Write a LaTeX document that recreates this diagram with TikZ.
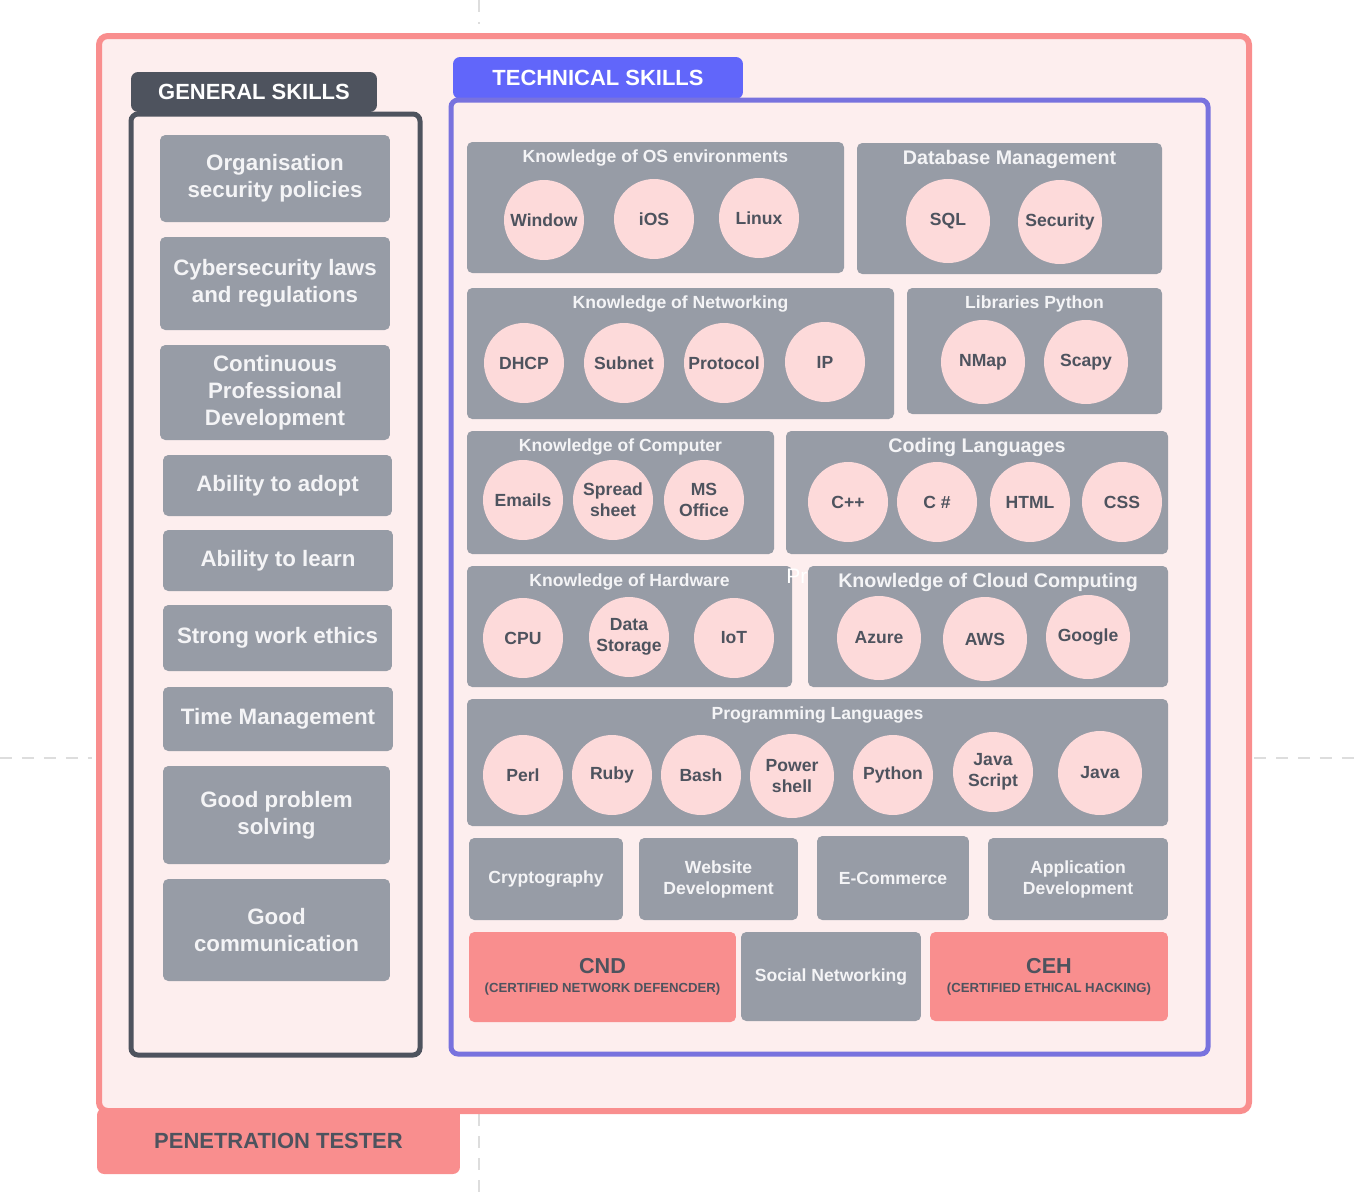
\documentclass[tikz,border=0pt]{standalone}
\usepackage{fontspec}
\setmainfont{Liberation Sans}
\usetikzlibrary{fit}
\definecolor{cbpaper}{HTML}{FDEEEE}
\definecolor{cbsalmon}{HTML}{F98E8E}
\definecolor{cbslate}{HTML}{4E535E}
\definecolor{cbblue}{HTML}{6166FA}
\definecolor{cbviolet}{HTML}{7872DE}
\definecolor{cbgrey}{HTML}{979CA6}
\definecolor{cbpink}{HTML}{FDDADA}
\definecolor{cbwhite}{HTML}{F4F4F6}
\definecolor{cbdash}{HTML}{DDDDDD}
\tikzstyle{frame} = [rectangle, rounded corners=5pt, fill=cbpaper, inner sep=0pt]
\tikzstyle{tab} = [rectangle, rounded corners=4pt, inner sep=0pt,
text=white, font=\bfseries\fontsize{12.5}{15}\selectfont]
\tikzstyle{skill} = [rectangle, rounded corners=3pt, fill=cbgrey, inner sep=0pt,
text=cbwhite, align=center, font=\bfseries\fontsize{12.7}{15.3}\selectfont]
\tikzstyle{group} = [rectangle, rounded corners=3pt, fill=cbgrey, inner sep=0pt]
\tikzstyle{title} = [anchor=base, yshift=-0.41cm, inner sep=0pt,
text=cbwhite, font=\bfseries\fontsize{10}{12}\selectfont]
\tikzstyle{bigtitle} = [title, yshift=-0.03cm, font=\bfseries\fontsize{11.2}{13}\selectfont]
\tikzstyle{bubble} = [circle, minimum size=1.6cm, inner sep=0pt, fill=cbpink,
text=cbslate, align=center, font=\bfseries\fontsize{10}{12}\selectfont]
\tikzstyle{bigbubble} = [bubble, minimum size=1.68cm]
\tikzstyle{field} = [group, text=cbwhite, align=center, font=\bfseries\fontsize{10}{12}\selectfont]
\tikzstyle{cert} = [rectangle, rounded corners=3pt, fill=cbsalmon, inner sep=0pt,
text=cbslate, align=center, font=\bfseries]
\tikzstyle{guide} = [draw=cbdash, line width=0.05cm, dash pattern=on 0.24cm off 0.2cm]

\begin{document}
\begin{tikzpicture}[x=0.02cm, y=-0.02cm]
\useasboundingbox (0,0) rectangle (1360,1198);

% ------------------------- guides -------------------------
\draw[guide] (479,0) -- (479,24);
\draw[guide] (479,1114) -- (479,1198);
\draw[guide] (0,758) -- (92,758);
\draw[guide] (1254,758) -- (1360,758);

% ------------------------- frames -------------------------

% ----- node: 1
\node(1)[tab, fill=cbsalmon, text=cbslate, minimum width=7.26cm, minimum height=1.32cm] at (278.5,1141) {PENETRATION TESTER};
% ----- node: 0
\node(0)[frame, draw=cbsalmon, line width=0.12cm, fit={(99,36) (1249,1111)}] {};
% ----- node: 2
\node(2)[tab, fill=cbslate, minimum width=4.92cm, minimum height=0.8cm] at (254,92) {GENERAL SKILLS};
% ----- node: 3
\node(3)[frame, draw=cbslate, line width=0.1cm, rounded corners=4pt, fit={(131,114) (420,1055)}] {};
% ----- node: 4
\node(4)[tab, fill=cbblue, minimum width=5.8cm, minimum height=0.84cm] at (598,78) {TECHNICAL SKILLS};
% ----- node: 5
\node(5)[frame, draw=cbviolet, line width=0.1cm, rounded corners=4pt, fit={(451,100) (1208,1054)}] {};

% ------------------------- general skills -------------------------

% ----- node: 6-14
\node(6)[skill, minimum width=4.6cm, minimum height=1.74cm] at (275,178.5) {Organisation\\security policies};
\node(7)[skill, minimum width=4.6cm, minimum height=1.86cm] at (275,283.5) {Cybersecurity laws\\and regulations};
\node(8)[skill, minimum width=4.6cm, minimum height=1.9cm] at (275,392.5) {Continuous\\Professional\\Development};
\node(9)[skill, minimum width=4.58cm, minimum height=1.22cm] at (277.5,485.5) {Ability to adopt};
\node(10)[skill, minimum width=4.6cm, minimum height=1.22cm] at (278,560.5) {Ability to learn};
\node(11)[skill, minimum width=4.58cm, minimum height=1.32cm] at (277.5,638) {Strong work ethics};
\node(12)[skill, minimum width=4.6cm, minimum height=1.28cm] at (278,719) {Time Management};
\node(13)[skill, minimum width=4.54cm, minimum height=1.96cm] at (276.5,815) {Good problem\\solving};
\node(14)[skill, minimum width=4.54cm, minimum height=2.04cm] at (276.5,930) {Good\\communication};

% ------------------------- technical skills -------------------------

% ----- node: 15
\node(15)[group, fit={(467,142) (844,273)}, label={[title]north:Knowledge of OS environments}] {};
\node(16)[bubble] at (544,220) {Window};
\node(17)[bubble] at (654,219) {iOS};
\node(18)[bubble] at (759,218) {Linux};
% ----- node: 19
\node(19)[group, fit={(857,143) (1162,274)}, label={[bigtitle]north:Database Management}] {};
\node(20)[bigbubble] at (948,221) {SQL};
\node(21)[bigbubble] at (1060,222) {Security};
% ----- node: 22
\node(22)[group, fit={(467,288) (894,419)}, label={[title]north:Knowledge of Networking}] {};
\node(23)[bubble] at (524,363) {DHCP};
\node(24)[bubble] at (624,363) {Subnet};
\node(25)[bubble] at (724,363) {Protocol};
\node(26)[bubble] at (825,362) {IP};
% ----- node: 27
\node(27)[group, fit={(907,288) (1162,414)}, label={[title]north:Libraries Python}] {};
\node(28)[bigbubble] at (983,362) {NMap};
\node(29)[bigbubble] at (1086,362) {Scapy};
% ----- node: 30
\node(30)[group, fit={(467,431) (774,554)}, label={[title]north:Knowledge of Computer}] {};
\node(31)[bubble] at (523,500) {Emails};
\node(32)[bubble] at (613,500) {Spread\\sheet};
\node(33)[bubble] at (704,500) {MS\\Office};
% ----- node: 34
\node(34)[group, fit={(786,431) (1168,554)}, label={[bigtitle]north:Coding Languages}] {};
\node(35)[bubble] at (848,502) {C++};
\node(36)[bubble] at (937,502) {C \#};
\node(37)[bubble] at (1030,502) {HTML};
\node(38)[bubble] at (1122,502) {CSS};
% ----- node: 39
\node(39)[group, fit={(467,566) (792,687)}, label={[title]north:Knowledge of Hardware}] {};
\node(40)[bubble] at (523,638) {CPU};
\node(41)[bubble] at (629,637) {Data\\Storage};
\node(42)[bubble] at (734,638) {IoT};
% ----- node: 43
\node(43)[anchor=west, inner sep=0pt, text=white, font=\fontsize{12}{14}\selectfont] at (786,576) {Pr};
% ----- node: 44
\node(44)[group, fit={(808,566) (1168,687)}, label={[bigtitle]north:Knowledge of Cloud Computing}] {};
\node(45)[bigbubble] at (879,638) {Azure};
\node(46)[bigbubble] at (985,639) {AWS};
\node(47)[bigbubble] at (1088,637) {Google};
% ----- node: 48
\node(48)[group, fit={(467,699) (1168,826)}, label={[title]north:Programming Languages}] {};
\node(49)[bubble] at (523,775) {Perl};
\node(50)[bubble] at (612,775) {Ruby};
\node(51)[bubble] at (701,775) {Bash};
\node(52)[bigbubble] at (792,776) {Power\\shell};
\node(53)[bubble] at (893,775) {Python};
\node(54)[bubble] at (993,772) {Java\\Script};
\node(55)[bigbubble] at (1100,773) {Java};

% ----- node: 56-59
\node(56)[field, minimum width=3.08cm, minimum height=1.64cm] at (546,879) {Cryptography};
\node(57)[field, minimum width=3.18cm, minimum height=1.64cm] at (718.5,879) {Website\\Development};
\node(58)[field, minimum width=3.04cm, minimum height=1.68cm] at (893,878) {E-Commerce};
\node(59)[field, minimum width=3.6cm, minimum height=1.64cm] at (1078,879) {Application\\Development};

% ----- node: 60-62
\node(60)[cert, minimum width=5.34cm, minimum height=1.8cm] at (602.5,977) {{\fontsize{12.3}{14}\selectfont CND}\\[-1pt]{\fontsize{7.5}{9}\selectfont (CERTIFIED NETWORK DEFENCDER)}};
\node(61)[field, minimum width=3.6cm, minimum height=1.78cm] at (831,976.5) {Social Networking};
\node(62)[cert, minimum width=4.76cm, minimum height=1.78cm] at (1049,976.5) {{\fontsize{12.3}{14}\selectfont CEH}\\[-1pt]{\fontsize{7.5}{9}\selectfont (CERTIFIED ETHICAL HACKING)}};

\end{tikzpicture}
\end{document}
